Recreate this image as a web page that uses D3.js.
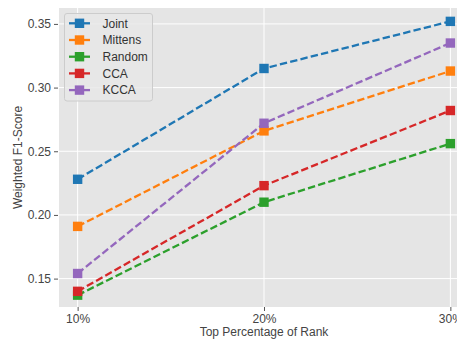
<!DOCTYPE html>
<html>
<head>
<meta charset="utf-8">
<script src="https://cdn.jsdelivr.net/npm/d3@7"></script>
<style>
html,body{margin:0;padding:0;background:#fff;}
svg{display:block;overflow:hidden;}
text{font-family:"Liberation Sans",Arial,sans-serif;}
</style>
</head>
<body>
<svg id="chart" width="457" height="341"></svg>
<script>
const categories = ["10%", "20%", "30%"];
const xValues = [10, 20, 30];
const seriesNames = ["Joint", "Mittens", "Random", "CCA", "KCCA"];
const joint   = [0.228, 0.315, 0.352];
const mittens = [0.191, 0.266, 0.313];
const random  = [0.137, 0.210, 0.256];
const cca     = [0.140, 0.223, 0.282];
const kcca    = [0.154, 0.272, 0.335];
const yTicks = [0.15, 0.20, 0.25, 0.30, 0.35];
const colors = ["#1f77b4", "#ff7f0e", "#2ca02c", "#d62728", "#9467bd"];
const seriesValues = [joint, mittens, random, cca, kcca];

const svg = d3.select("#chart");
const m = {left: 59, top: 8, right: 469, bottom: 307};
const x = d3.scaleLinear().domain([9, 31]).range([m.left, m.right]);
const y = d3.scaleLinear().domain([0.1277, 0.3625]).range([m.bottom, m.top]);

svg.append("rect").attr("x", m.left).attr("y", m.top)
  .attr("width", m.right - m.left).attr("height", m.bottom - m.top)
  .attr("fill", "#E5E5E5");

// grid
svg.append("g").selectAll("line").data(yTicks).join("line")
  .attr("x1", m.left).attr("x2", m.right)
  .attr("y1", d => y(d)).attr("y2", d => y(d))
  .attr("stroke", "#fff").attr("stroke-width", 1);
svg.append("g").selectAll("line").data(xValues).join("line")
  .attr("y1", m.top).attr("y2", m.bottom)
  .attr("x1", d => x(d)).attr("x2", d => x(d))
  .attr("stroke", "#fff").attr("stroke-width", 1);

// axes
const yAxis = d3.axisLeft(y).tickValues(yTicks).tickFormat(d3.format(".2f")).tickSize(4).tickPadding(3);
const gy = svg.append("g").attr("transform", `translate(${m.left - 1},0)`).call(yAxis);
gy.select(".domain").remove();
gy.selectAll("line").attr("stroke", "#555");
gy.selectAll("text").attr("font-size", 12).attr("fill", "#444").attr("font-family", "'Liberation Sans',Arial,sans-serif");

const xAxis = d3.axisBottom(x).tickValues(xValues).tickFormat((d, i) => categories[i]).tickSize(4).tickPadding(3);
const gx = svg.append("g").attr("transform", `translate(0,${m.bottom})`).call(xAxis);
gx.select(".domain").remove();
gx.selectAll("line").attr("stroke", "#555");
gx.selectAll("text").attr("font-size", 12).attr("fill", "#444").attr("font-family", "'Liberation Sans',Arial,sans-serif");

svg.append("text").attr("x", (m.left + m.right) / 2).attr("y", 336)
  .attr("text-anchor", "middle").attr("font-size", 12).attr("fill", "#444")
  .text("Top Percentage of Rank");
svg.append("text").attr("transform", `translate(22,${(m.top + m.bottom) / 2}) rotate(-90)`)
  .attr("text-anchor", "middle").attr("font-size", 12).attr("fill", "#444")
  .text("Weighted F1-Score");

// lines
const line = d3.line().x((d, i) => x(xValues[i])).y(d => y(d));
seriesValues.forEach((vals, s) => {
  const g = svg.append("g");
  g.append("path").attr("d", line(vals)).attr("fill", "none")
    .attr("stroke", colors[s]).attr("stroke-width", 2.3)
    .attr("stroke-dasharray", "7.4,3.2");
  g.selectAll("rect").data(vals).join("rect")
    .attr("x", (d, i) => x(xValues[i]) - 4.7).attr("y", d => y(d) - 4.7)
    .attr("width", 9.4).attr("height", 9.4).attr("fill", colors[s]);
});

// legend
const lg = svg.append("g");
lg.append("rect").attr("x", 64.5).attr("y", 13.5).attr("width", 88).attr("height", 87.5)
  .attr("rx", 2.5).attr("fill", "#E8E8E8").attr("fill-opacity", 0.85)
  .attr("stroke", "#CCCCCC").attr("stroke-width", 1);
seriesNames.forEach((name, i) => {
  const cy = 23.3 + i * 16.7;
  lg.append("line").attr("x1", 69).attr("x2", 90).attr("y1", cy).attr("y2", cy)
    .attr("stroke", colors[i]).attr("stroke-width", 2.3);
  lg.append("rect").attr("x", 79.5 - 4.7).attr("y", cy - 4.7).attr("width", 9.4).attr("height", 9.4)
    .attr("fill", colors[i]);
  lg.append("text").attr("x", 102.5).attr("y", cy + 4.2).attr("font-size", 12).attr("fill", "#333")
    .text(name);
});
</script>
</body>
</html>
